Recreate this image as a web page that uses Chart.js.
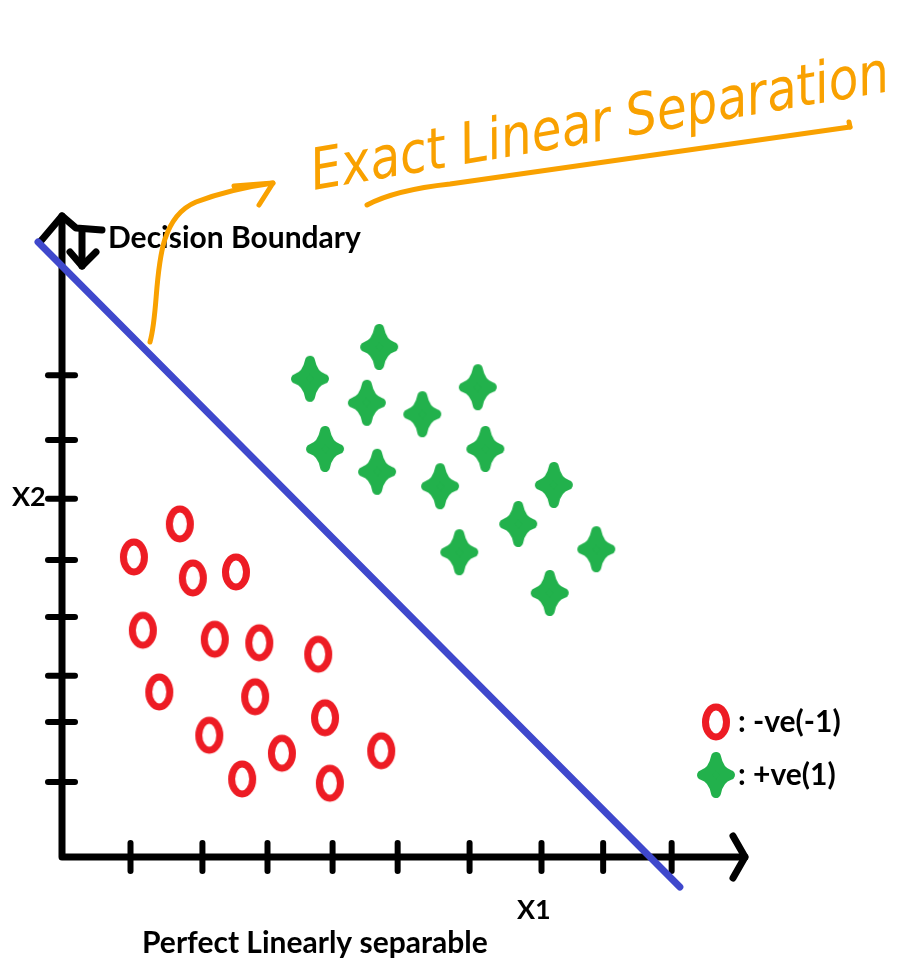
<!DOCTYPE html>
<html>
<head>
<meta charset="utf-8">
<title>Perfect Linearly separable</title>
<script src="https://cdn.jsdelivr.net/npm/chart.js@4.4.1/dist/chart.umd.min.js"></script>
<style>
  html, body { margin: 0; padding: 0; background: #fff; }
  canvas { display: block; }
</style>
</head>
<body>
<canvas id="sepChart" width="909" height="960"></canvas>
<script>
// class -1 samples
var redX = [1.72, 1.05, 1.91, 2.54, 1.18, 2.23, 2.88, 3.74, 1.42, 2.82, 3.84, 2.15, 3.21, 4.66, 2.63, 3.91];
var redY = [5.55, 5.00, 4.65, 4.75, 3.78, 3.63, 3.57, 3.38, 2.75, 2.67, 2.32, 2.03, 1.73, 1.77, 1.30, 1.23];

// class +1 samples
var greenX = [4.63, 3.62, 4.45, 6.07, 5.26, 3.84, 6.18, 4.60, 5.52, 7.18, 6.66, 5.80, 7.80, 7.12];
var greenY = [8.50, 7.97, 7.57, 7.83, 7.38, 6.80, 6.80, 6.42, 6.18, 6.20, 5.55, 5.08, 5.13, 4.40];

// decision boundary end points
var boundaryX = [-0.35, 9.02];
var boundaryY = [10.25, -0.5];

// hand drawn tick marks
var xTicks = [1, 2.05, 3, 3.95, 4.9, 5.95, 7, 7.9, 8.9];
var yTicks = [1.25, 2.25, 3.02, 4.0, 4.95, 5.97, 6.95, 8.03];

var RED = '#ed1c24', GREEN = '#22b14c', BLUE = '#3f48cc', ORANGE = '#f9a100';
var FONT = "bold 30px Lato, 'Open Sans', sans-serif";

function zip(xs, ys) {
  return xs.map(function(x, i) { return { x: x, y: ys[i] }; });
}

// marker images
function makeRing() {
  var c = document.createElement('canvas');
  c.width = 34; c.height = 44;
  var g = c.getContext('2d');
  g.strokeStyle = RED;
  g.lineWidth = 7;
  g.beginPath();
  g.ellipse(17, 22, 10.5, 15, 0, 0, Math.PI * 2);
  g.stroke();
  return c;
}

function makePlus() {
  var c = document.createElement('canvas');
  c.width = 46; c.height = 54;
  var g = c.getContext('2d');
  var cx = 23, cy = 27;
  g.fillStyle = GREEN;
  g.strokeStyle = GREEN;
  g.lineWidth = 10;
  g.lineJoin = 'round';
  g.beginPath();
  g.moveTo(cx, cy - 18);
  g.quadraticCurveTo(cx + 3, cy - 3, cx + 14, cy);
  g.quadraticCurveTo(cx + 3, cy + 3, cx, cy + 18);
  g.quadraticCurveTo(cx - 3, cy + 3, cx - 14, cy);
  g.quadraticCurveTo(cx - 3, cy - 3, cx, cy - 18);
  g.closePath();
  g.fill();
  g.stroke();
  return c;
}

var ringImg = makeRing();
var plusImg = makePlus();

function line(ctx, pts, w, color) {
  ctx.save();
  ctx.strokeStyle = color;
  ctx.lineWidth = w;
  ctx.lineCap = 'round';
  ctx.lineJoin = 'round';
  ctx.beginPath();
  ctx.moveTo(pts[0][0], pts[0][1]);
  for (var i = 1; i < pts.length; i++) ctx.lineTo(pts[i][0], pts[i][1]);
  ctx.stroke();
  ctx.restore();
}

// axes with arrow heads and crossing ticks
var axesPlugin = {
  id: 'handAxes',
  beforeDatasetsDraw: function(chart) {
    var ctx = chart.ctx;
    var sx = chart.scales.x, sy = chart.scales.y;
    var ox = sx.getPixelForValue(0), oy = sy.getPixelForValue(0);
    var xEnd = sx.getPixelForValue(sx.max) - 2;
    var yEnd = sy.getPixelForValue(sy.max) + 1;

    line(ctx, [[ox, yEnd], [ox, oy], [xEnd, oy]], 7, '#000');
    line(ctx, [[xEnd - 12, oy - 21], [xEnd, oy], [xEnd - 12, oy + 21]], 7, '#000');
    line(ctx, [[ox - 22, yEnd + 26], [ox, yEnd], [ox + 14, yEnd + 12], [ox + 40, yEnd + 14]], 7, '#000');
    line(ctx, [[ox + 20, yEnd + 16], [ox + 20, yEnd + 50]], 7, '#000');
    line(ctx, [[ox + 8, yEnd + 36], [ox + 20, yEnd + 50], [ox + 34, yEnd + 36]], 7, '#000');

    xTicks.forEach(function(v) {
      var px = sx.getPixelForValue(v);
      line(ctx, [[px, oy - 14], [px, oy + 14]], 6, '#000');
    });
    yTicks.forEach(function(v) {
      var py = sy.getPixelForValue(v);
      line(ctx, [[ox - 14, py], [ox + 13, py]], 6, '#000');
    });
  },
  afterDraw: function(chart) {
    var ctx = chart.ctx;
    ctx.save();
    ctx.fillStyle = '#000';
    ctx.font = FONT;
    ctx.textBaseline = 'middle';
    ctx.textAlign = 'left';
    ctx.fillText('Decision Boundary', 108, 238);
    ctx.fillText('Perfect Linearly separable', 142, 943);
    ctx.fillText(': -ve(-1)', 738, 722);
    ctx.fillText(': +ve(1)', 738, 775);
    ctx.font = "bold 27px Lato, 'Open Sans', sans-serif";
    ctx.fillText('X2', 12, 497);
    ctx.fillText('X1', 517, 910);

    // legend markers
    ctx.drawImage(ringImg, 716 - 17, 722 - 22);
    ctx.drawImage(plusImg, 716 - 23, 775 - 27);

    // orange annotation: arrow to the boundary and underline
    ctx.strokeStyle = ORANGE;
    ctx.lineWidth = 5;
    ctx.lineCap = 'round';
    ctx.beginPath();
    ctx.moveTo(150, 342);
    ctx.bezierCurveTo(162, 300, 148, 222, 196, 202);
    ctx.quadraticCurveTo(230, 189, 273, 183);
    ctx.stroke();
    line(ctx, [[234, 186], [273, 183], [259, 205]], 5, ORANGE);
    ctx.beginPath();
    ctx.moveTo(367, 205);
    ctx.quadraticCurveTo(395, 190, 450, 184);
    ctx.quadraticCurveTo(600, 162, 850, 127);
    ctx.stroke();
    line(ctx, [[850, 127], [849, 122]], 5, ORANGE);

    ctx.translate(314, 190);
    ctx.rotate(-0.17);
    ctx.scale(0.98, 1.15);
    ctx.fillStyle = ORANGE;
    ctx.font = "italic 300 50px 'DejaVu Sans', sans-serif";
    ctx.textBaseline = 'alphabetic';
    ctx.fillText('Exact Linear Separation', 0, 0);
    ctx.restore();
  }
};

new Chart(document.getElementById('sepChart'), {
  type: 'scatter',
  data: {
    datasets: [
      {
        type: 'line',
        label: 'Decision Boundary',
        data: zip(boundaryX, boundaryY),
        borderColor: BLUE,
        borderWidth: 7,
        borderCapStyle: 'round',
        pointRadius: 0,
        fill: false,
        clip: false
      },
      {
        label: '-ve(-1)',
        data: zip(redX, redY),
        pointStyle: ringImg,
        clip: false
      },
      {
        label: '+ve(1)',
        data: zip(greenX, greenY),
        pointStyle: plusImg,
        clip: false
      }
    ]
  },
  options: {
    responsive: false,
    animation: false,
    events: [],
    layout: { padding: { left: 62, right: 162, top: 215, bottom: 103 } },
    plugins: { legend: { display: false }, tooltip: { enabled: false } },
    scales: {
      x: { type: 'linear', min: 0, max: 10, display: false },
      y: { type: 'linear', min: 0, max: 10.7, display: false }
    }
  },
  plugins: [axesPlugin]
});
</script>
</body>
</html>
